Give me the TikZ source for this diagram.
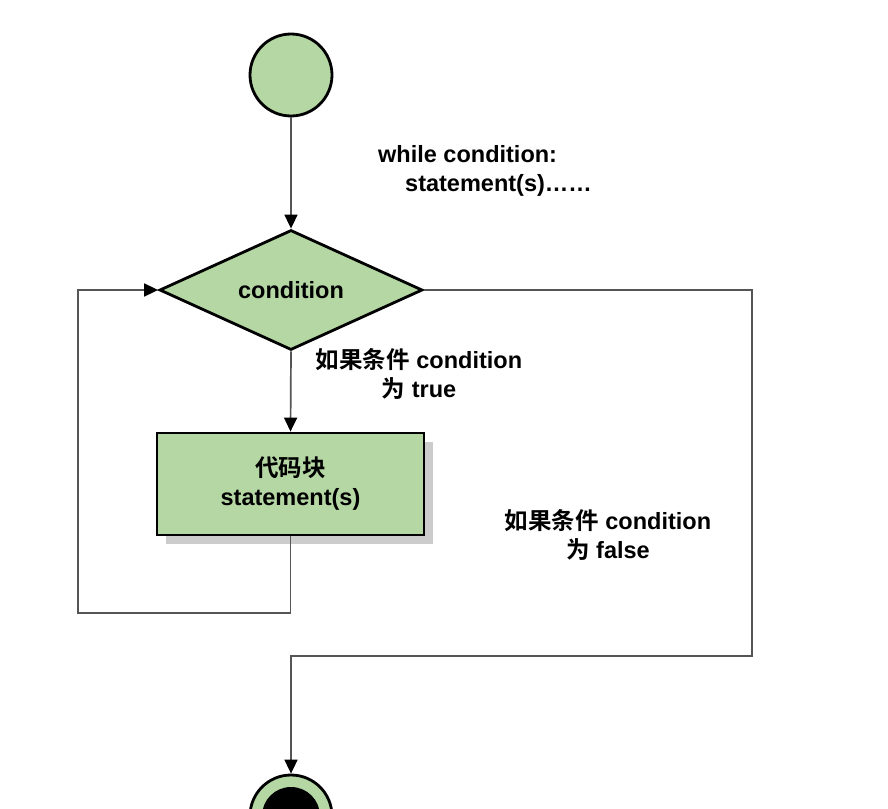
\documentclass[tikz,border=0pt]{standalone}
\usepackage{fontspec}
\setmainfont{Liberation Sans}[BoldFont={Liberation Sans Bold}]
\newfontfamily\cjk{Noto Sans CJK SC}[BoldFont={Noto Sans CJK SC Bold}]
\usetikzlibrary{shapes.geometric,arrows.meta}
\definecolor{flowgreen}{RGB}{180,215,164}
\definecolor{linegray}{RGB}{85,85,85}
\begin{document}
\begin{tikzpicture}[x=1pt,y=-1pt,
  every node/.style={font=\fontsize{23.5}{29}\selectfont\bfseries},
  shapeline/.style={draw=black,line width=2.8pt,fill=flowgreen},
  conn/.style={draw=linegray,line width=1.7pt,-{Triangle[length=14pt,width=13pt,fill=black,color=black]}},
  lbl/.style={align=center,inner sep=0pt}]
\clip (0,0) rectangle (888,808);
\fill[white] (0,0) rectangle (888,808);
\node[circle,shapeline,minimum size=82pt,inner sep=0pt] (start) at (291,75) {};
\node[diamond,shapeline,minimum width=263pt,minimum height=120pt,inner sep=0pt,aspect=2.2] (cond) at (291,290) {condition};
\fill[gray!40] (166,442) rectangle (433,544);
\node[rectangle,shapeline,minimum width=267pt,minimum height=102pt,inner sep=0pt,align=center] (body) at (290.5,484) {{\cjk 代码块}\\statement(s)};
\node[circle,draw=black,line width=2.8pt,fill=flowgreen,minimum size=82pt,inner sep=0pt] (end) at (291,816) {};
\node[circle,fill=black,minimum size=58pt,inner sep=0pt] (endin) at (end) {};
\node[lbl,align=left,anchor=west] (wtxt) at (378,171) {while condition:\\\hspace*{27pt}statement(s)……};
\node[lbl] (ttxt) at (419,374) {{\cjk 如果条件} condition\\{\cjk 为} true};
\node[lbl] (ftxt) at (608,535) {{\cjk 如果条件} condition\\{\cjk 为} false};
\coordinate (lb) at (78,613);
\coordinate (rb) at (752,656);
\draw[conn] (start) -- (cond.north);
\draw[conn] (cond.south) -- (body.north);
\draw[conn] (body.south) -- (body.south |- lb) -- (lb) |- (cond.west);
\draw[conn] (cond.east) -| (rb) -- (rb -| end) -- (end.north);
\end{tikzpicture}
\end{document}
